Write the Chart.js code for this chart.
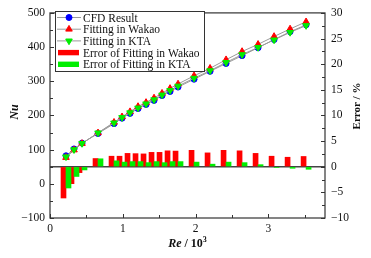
<!DOCTYPE html>
<html>
<head>
<meta charset="utf-8">
<script src="https://cdn.jsdelivr.net/npm/chart.js@4.4.1/dist/chart.umd.min.js"></script>
<style>
  html, body { margin: 0; padding: 0; background: #fff; }
</style>
</head>
<body>
<canvas id="nuChart" width="371" height="258"></canvas>
<script>
// Re / 10^3 of each case
var reValues = [0.22, 0.33, 0.44, 0.66, 0.88, 0.99, 1.10, 1.21, 1.32, 1.43, 1.54, 1.65, 1.76, 1.98, 2.20, 2.42, 2.64, 2.86, 3.08, 3.30, 3.52];
// Nu
var nuCFD   = [82, 102, 119, 147, 176, 192, 206, 220, 232, 244, 258, 270, 283, 306, 329, 352, 375, 398, 422, 445, 465];
var nuWakao = [77,  99, 118, 149, 180, 196, 211, 226, 238, 251, 265, 279, 292, 316, 338, 363, 387, 408, 431, 453, 474];
var nuKTA   = [79, 100, 118, 149, 178, 194, 208, 222, 234, 246, 260, 273, 286, 309, 331, 355, 378, 399, 421, 443, 463];
// Error / %
var errWakao = [-6.1, -3.3, -1.15, 1.6, 2.05, 2.05, 2.6, 2.55, 2.5, 2.8, 2.8, 3.1, 3.05, 3.2, 2.7, 3.2, 3.1, 2.6, 2.05, 1.85, 2.0];
var errKTA   = [-4.15, -1.9, -0.63, 1.55, 1.15, 0.9, 1.0, 1.0, 0.8, 1.0, 0.8, 1.0, 1.0, 0.9, 0.5, 0.9, 0.8, 0.4, -0.15, -0.3, -0.5];

var serif = '"Liberation Serif", "Times New Roman", serif';

function pts(values) {
  return reValues.map(function (re, i) { return { x: re, y: values[i] }; });
}

function minus(v) {
  return String(v).replace('-', '\u2212');
}

// red bars sit left, but green ones are painted over them
var barOrder = {
  id: 'barOrder',
  beforeDatasetDraw: function (chart, args) {
    if (args.index === 4 && !chart.$greenNow) return false;
  },
  afterDatasetDraw: function (chart, args) {
    if (args.index === 3) {
      chart.$greenNow = true;
      chart.getDatasetMeta(4).controller.draw();
      chart.$greenNow = false;
    }
  }
};

var decor = {
  id: 'decor',
  afterDraw: function (chart) {
    var ctx = chart.ctx, a = chart.chartArea;
    var sx = chart.scales.x, sl = chart.scales.yNu, sr = chart.scales.yErr;
    var v, p;
    ctx.save();
    ctx.strokeStyle = '#333';
    ctx.lineWidth = 1.2;
    ctx.strokeRect(a.left, a.top, a.right - a.left, a.bottom - a.top);

    ctx.lineWidth = 1;
    ctx.beginPath();
    for (v = sx.min; v <= sx.max + 1e-9; v += 0.5) {
      p = Math.round(sx.getPixelForValue(v)) + 0.5;
      ctx.moveTo(p, a.bottom);
      ctx.lineTo(p, a.bottom - (v % 1 === 0 ? 4 : 3));
    }
    for (v = sl.min; v <= sl.max; v += 50) {
      p = Math.round(sl.getPixelForValue(v)) + 0.5;
      ctx.moveTo(a.left, p);
      ctx.lineTo(a.left + (v % 100 === 0 ? 4 : 3), p);
    }
    for (v = sr.min; v <= sr.max; v += 2.5) {
      p = Math.round(sr.getPixelForValue(v)) + 0.5;
      ctx.moveTo(a.right, p);
      ctx.lineTo(a.right - (v % 5 === 0 ? 4 : 3), p);
    }
    ctx.stroke();

    // legend
    var lx = 55, ly = 11, lw = 149, lh = 60;
    ctx.fillStyle = '#fff';
    ctx.fillRect(lx, ly, lw, lh);
    ctx.strokeStyle = '#333';
    ctx.strokeRect(lx + 0.5, ly + 0.5, lw, lh);
    ctx.font = '11.5px ' + serif;
    ctx.textBaseline = 'middle';
    ctx.textAlign = 'left';
    chart.data.datasets.forEach(function (ds, i) {
      var y = 17.5 + i * 11.7;
      if (ds.type === 'line') {
        ctx.strokeStyle = ds.borderColor;
        ctx.lineWidth = 1;
        ctx.beginPath();
        ctx.moveTo(57, y);
        ctx.lineTo(81, y);
        ctx.stroke();
        ctx.fillStyle = ds.pointBackgroundColor;
        ctx.strokeStyle = ds.pointBorderColor;
        Chart.helpers.drawPoint(ctx, {
          pointStyle: ds.pointStyle, radius: ds.pointRadius,
          rotation: ds.pointRotation || 0, borderWidth: 1
        }, 69, y);
      } else {
        ctx.fillStyle = ds.backgroundColor;
        ctx.fillRect(58, y - 2.7, 21, 5.4);
      }
      ctx.fillStyle = '#111';
      ctx.fillText(ds.label, 83, y + 1);
    });

    // axis titles
    ctx.fillStyle = '#111';
    ctx.textAlign = 'center';
    ctx.save();
    ctx.translate(15, 112);
    ctx.rotate(-Math.PI / 2);
    ctx.font = 'italic bold 12px ' + serif;
    ctx.fillText('Nu', 0, 0);
    ctx.restore();

    ctx.save();
    ctx.translate(357.5, 106);
    ctx.rotate(-Math.PI / 2);
    ctx.font = 'bold 11px ' + serif;
    ctx.fillText('Error / %', 0, 0);
    ctx.restore();

    ctx.textAlign = 'left';
    ctx.textBaseline = 'alphabetic';
    var f1 = 'italic bold 12px ' + serif, f2 = 'bold 12px ' + serif, f3 = 'bold 8px ' + serif;
    ctx.font = f1; var w1 = ctx.measureText('Re').width;
    ctx.font = f2; var w2 = ctx.measureText(' / 10').width;
    ctx.font = f3; var w3 = ctx.measureText('3').width;
    var tx = (a.left + a.right) / 2 - (w1 + w2 + w3) / 2, ty = 247;
    ctx.font = f1; ctx.fillText('Re', tx, ty);
    ctx.font = f2; ctx.fillText(' / 10', tx + w1, ty);
    ctx.font = f3; ctx.fillText('3', tx + w1 + w2, ty - 5);
    ctx.restore();
  }
};

var tickFont = { family: serif, size: 11.5 };

new Chart(document.getElementById('nuChart'), {
  type: 'bar',
  data: {
    datasets: [
      {
        type: 'line', label: 'CFD Result', data: pts(nuCFD), yAxisID: 'yNu', order: 2,
        borderColor: '#9a9a9a', borderWidth: 1,
        pointStyle: 'circle', pointRadius: 3,
        pointBackgroundColor: '#0000ff', pointBorderColor: '#0000ff'
      },
      {
        type: 'line', label: 'Fitting in Wakao', data: pts(nuWakao), yAxisID: 'yNu', order: 1,
        borderColor: '#9a9a9a', borderWidth: 1,
        pointStyle: 'triangle', pointRadius: 3.8,
        pointBackgroundColor: '#ff0000', pointBorderColor: '#ff0000'
      },
      {
        type: 'line', label: 'Fitting in KTA', data: pts(nuKTA), yAxisID: 'yNu', order: 0,
        borderColor: '#9a9a9a', borderWidth: 1,
        pointStyle: 'triangle', pointRotation: 180, pointRadius: 3.8,
        pointBackgroundColor: '#00ee00', pointBorderColor: '#00ee00'
      },
      {
        type: 'bar', label: 'Error of Fitting in Wakao', data: pts(errWakao), yAxisID: 'yErr', order: 3,
        backgroundColor: '#ff0000', barThickness: 5
      },
      {
        type: 'bar', label: 'Error of Fitting in KTA', data: pts(errKTA), yAxisID: 'yErr', order: 4,
        backgroundColor: '#00ee00', barThickness: 5
      }
    ]
  },
  options: {
    responsive: false,
    animation: false,
    layout: { padding: { top: 9, left: 0, right: 0, bottom: 0 } },
    plugins: { legend: { display: false }, tooltip: { enabled: false } },
    scales: {
      x: {
        type: 'linear', min: 0, max: 3.78, offset: false,
        grid: { display: false, drawTicks: false, offset: false },
        border: { display: false },
        ticks: { stepSize: 1, includeBounds: false, padding: 4, color: '#111', font: tickFont, maxRotation: 0 },
        afterFit: function (s) { s.height = 40; }
      },
      yNu: {
        type: 'linear', position: 'left', min: -100, max: 500,
        grid: { display: false, drawTicks: false },
        border: { display: false },
        ticks: { stepSize: 100, padding: 5, color: '#111', font: tickFont, callback: minus },
        afterFit: function (s) { s.width = 50; }
      },
      yErr: {
        type: 'linear', position: 'right', min: -10, max: 30,
        grid: {
          drawTicks: false, drawOnChartArea: true, lineWidth: 1.4,
          color: function (c) { return c.tick && c.tick.value === 0 ? '#444' : 'rgba(0,0,0,0)'; }
        },
        border: { display: false },
        ticks: { stepSize: 5, padding: 6, color: '#111', font: tickFont, callback: minus },
        afterFit: function (s) { s.width = 46; }
      }
    }
  },
  plugins: [barOrder, decor]
});
</script>
</body>
</html>
